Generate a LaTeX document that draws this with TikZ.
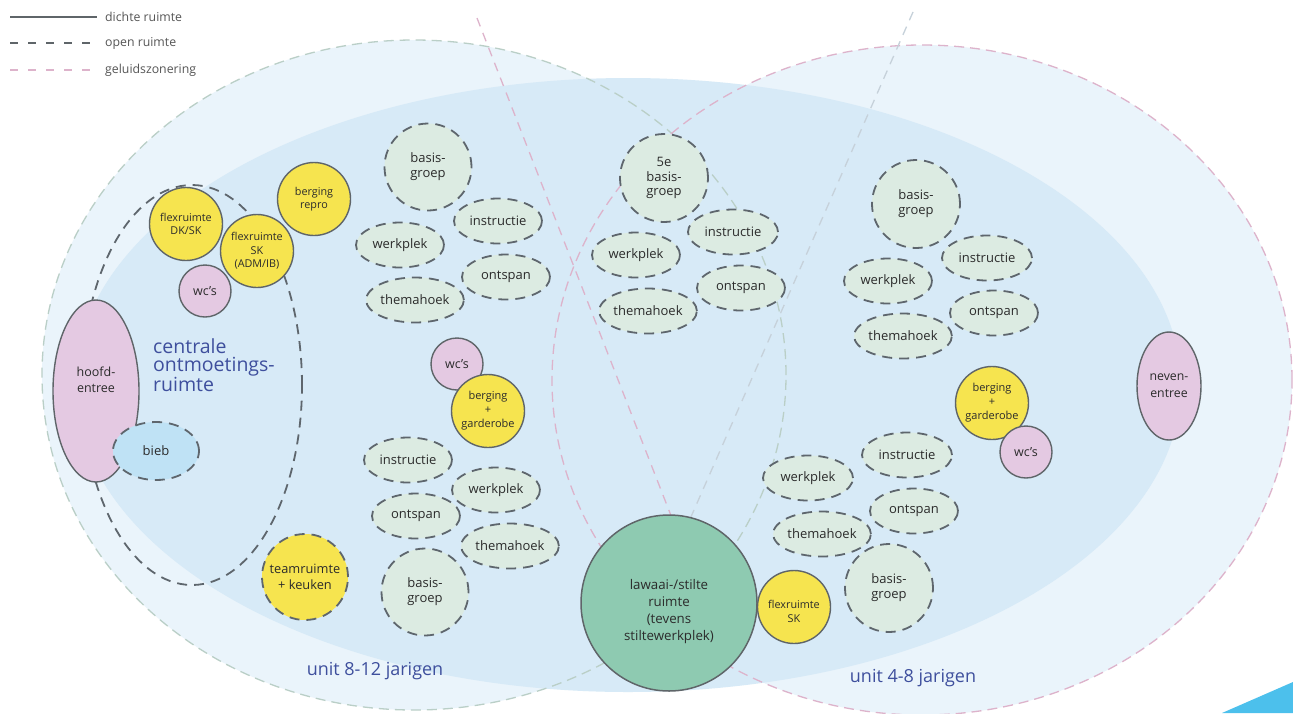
\documentclass[tikz,border=0pt]{standalone}
\usepackage{fontspec}
\setmainfont{Open Sans}
\usetikzlibrary{shapes.geometric}
\definecolor{outerfill}{HTML}{EAF4FB}
\definecolor{innerfill}{HTML}{D7EAF7}
\definecolor{yel}{HTML}{F6E44F}
\definecolor{pinkfill}{HTML}{E4C9E2}
\definecolor{greenfill}{HTML}{DCEBE2}
\definecolor{lawaaifill}{HTML}{8ECAB1}
\definecolor{biebfill}{HTML}{BFE2F5}
\definecolor{edge}{HTML}{5F6569}
\definecolor{dashedge}{HTML}{5E666D}
\definecolor{txt}{HTML}{2B2B2B}
\definecolor{bluetxt}{HTML}{3E4F9D}
\definecolor{zonepink}{HTML}{DDB3CB}
\definecolor{zonegreen}{HTML}{BACFC7}
\definecolor{zonegrey}{HTML}{C6D1DA}
\definecolor{cornerblue}{HTML}{4CC0EC}
\definecolor{legendtxt}{HTML}{555555}
\tikzset{
  room/.style={inner sep=0pt, align=center, text=txt, font=\fontsize{13}{15}\selectfont},
  openroom/.style={room, draw=dashedge, line width=1.8pt, dash pattern=on 10pt off 7pt, fill=greenfill},
  openell/.style={openroom, ellipse, minimum width=88pt, minimum height=45pt},
  opencirc/.style={openroom, circle, minimum size=87pt},
  closed/.style={room, draw=edge, line width=1.4pt},
  yelcirc/.style={closed, circle, fill=yel, minimum size=73pt, font=\fontsize{10.8}{13.5}\selectfont},
  wcroom/.style={closed, circle, fill=pinkfill, minimum size=52pt, font=\fontsize{12.5}{14}\selectfont},
  geluid/.style={draw=zonepink, line width=1.3pt, dash pattern=on 9pt off 7pt},
  geluidgrey/.style={draw=zonegrey, line width=1.3pt, dash pattern=on 9pt off 7pt},
  unitlabel/.style={text=bluetxt, font=\fontsize{18}{20}\selectfont, inner sep=0pt},
  legendlabel/.style={text=legendtxt, font=\fontsize{12.3}{14}\selectfont, inner sep=0pt, anchor=west},
}
\begin{document}
\begin{tikzpicture}[x=1pt,y=-1pt]
\useasboundingbox (0,0) rectangle (1293,713);
\clip (0,0) rectangle (1293,713);
\fill[white] (0,0) rectangle (1293,713);
% outer unit areas
\fill[outerfill] (414,375) ellipse [x radius=372pt, y radius=335pt];
\fill[outerfill] (922,380) ellipse [x radius=370pt, y radius=335pt];
% inner area
\fill[innerfill] (628,385) ellipse [x radius=553pt, y radius=307pt];
% unit borders
\draw[draw=zonegreen, line width=1.3pt, dash pattern=on 10pt off 6pt] (414,375) ellipse [x radius=372pt, y radius=335pt];
\draw[draw=zonepink, line width=1.3pt, dash pattern=on 10pt off 6pt] (922,380) ellipse [x radius=370pt, y radius=335pt];
% zone lines
\coordinate (zA1) at (477,18);
\coordinate (zA2) at (700,590);
\coordinate (zB1) at (913,12);
\coordinate (zB2) at (672,560);
\draw[geluid] (zA1) -- (zA2);
\draw[geluidgrey] (zB1) -- (zB2);
% centrale ontmoetingsruimte
\draw[draw=dashedge, line width=1.8pt, dash pattern=on 10pt off 7pt] (192,385) ellipse [x radius=110pt, y radius=200pt];
\node[text=bluetxt, font=\fontsize{19.5}{18}\selectfont, align=left, inner sep=0pt, anchor=north west] (centrale) at (153,338) {centrale\\ontmoetings-\\ruimte};
% left rooms
\node[closed, ellipse, fill=pinkfill, minimum width=86pt, minimum height=182pt] (hoofd) at (96,391) {};
\node[room, font=\fontsize{12.5}{16.5}\selectfont] (hoofdtext) at (96,380) {hoofd-\\entree};
\node[openroom, ellipse, fill=biebfill, minimum width=86pt, minimum height=58pt] (bieb) at (156,451) {bieb};
\node[yelcirc] (flexdk) at (186,224) {flexruimte\\DK/SK};
\node[yelcirc] (flexsk) at (257,251) {flexruimte\\SK\\(ADM/IB)};
\node[yelcirc] (repro) at (314,199) {berging\\repro};
\node[wcroom] (wc1) at (205,291) {wc’s};
\node[openroom, circle, fill=yel, minimum size=86pt, font=\fontsize{12.8}{16.5}\selectfont] (team) at (305,577) {teamruimte\\+ keuken};
% unit 8-12 upper cluster
\node[opencirc] (bg1) at (428,167) {basis-\\groep};
\node[openell] (in1) at (498,221) {instructie};
\node[openell] (wp1) at (400,245) {werkplek};
\node[openell] (on1) at (506,277) {ontspan};
\node[openell, minimum width=85pt] (th1) at (415,300) {themahoek};
% unit 8-12 lower cluster
\node[wcroom] (wc2) at (457,364) {wc’s};
\node[yelcirc, font=\fontsize{11}{14}\selectfont] (ber1) at (488,411) {berging\\+\\garderobe};
\node[openell] (in2) at (408,460) {instructie};
\node[openell] (wp2) at (496,490) {werkplek};
\node[openell] (on2) at (416,516) {ontspan};
\node[openell, minimum width=86pt] (th2) at (510,546) {themahoek};
\node[opencirc] (bg2) at (425,592) {basis-\\groep};
% middle cluster
\node[opencirc, minimum size=88pt, font=\fontsize{13}{14.5}\selectfont] (bg3) at (664,178) {5e\\basis-\\groep};
\node[openell, minimum width=90pt] (in3) at (733,232) {instructie};
\node[openell] (wp3) at (636,255) {werkplek};
\node[openell] (on3) at (741,288) {ontspan};
\node[openell, minimum width=86pt] (th3) at (648,311) {themahoek};
% unit 4-8 upper cluster
\node[opencirc, minimum size=88pt] (bg4) at (916,204) {basis-\\groep};
\node[openell, minimum width=90pt] (in4) at (987,258) {instructie};
\node[openell] (wp4) at (888,281) {werkplek};
\node[openell] (on4) at (994,313) {ontspan};
\node[openell, minimum width=84pt] (th4) at (903,336) {themahoek};
% unit 4-8 lower cluster
\node[yelcirc, font=\fontsize{11}{14}\selectfont] (ber2) at (992,403) {berging\\+\\garderobe};
\node[wcroom] (wc3) at (1026,452) {wc’s};
\node[openell, minimum width=90pt] (in5) at (907,455) {instructie};
\node[openell] (on5) at (914,511) {ontspan};
\node[opencirc, minimum size=88pt] (bg5) at (889,588) {basis-\\groep};
\node[openell, minimum width=90pt] (wp5) at (808,478) {werkplek};
\node[openell, minimum width=86pt] (th5) at (822,534) {themahoek};
\node[yelcirc] (flex2) at (794,607) {};
\node[room, font=\fontsize{10.8}{14}\selectfont] (flex2text) at (794,611) {flexruimte\\SK};
% central quiet room
\node[closed, circle, fill=lawaaifill, minimum size=176pt, line width=1.5pt] (lawaai) at (669,603) {};
\node[room, font=\fontsize{13.3}{17}\selectfont] (lawaaitext) at (669,612) {lawaai-/stilte\\ruimte\\(tevens\\stiltewerkplek)};
% side entrance
\node[closed, ellipse, fill=pinkfill, minimum width=64pt, minimum height=108pt, font=\fontsize{12.3}{17}\selectfont] (neven) at (1169,386) {neven-\\entree};
% unit labels
\node[unitlabel] (u812) at (375,671) {unit 8-12 jarigen};
\node[unitlabel] (u48) at (913,678) {unit 4-8 jarigen};
% corner
\fill[cornerblue] (1222,713) -- (1293,682) -- (1293,713) -- cycle;
% legend
\coordinate (l1a) at (10,17); \coordinate (l1b) at (97,17);
\coordinate (l2a) at (10,43); \coordinate (l2b) at (97,43);
\coordinate (l3a) at (10,70); \coordinate (l3b) at (97,70);
\draw[draw=edge, line width=1.4pt] (l1a) -- (l1b);
\draw[draw=edge, line width=1.2pt, dash pattern=on 8pt off 10pt] (l2a) -- (l2b);
\draw[draw=zonepink, line width=1.2pt, dash pattern=on 8pt off 10pt] (l3a) -- (l3b);
\node[legendlabel] (leg1) at (105,17) {dichte ruimte};
\node[legendlabel] (leg2) at (105,43) {open ruimte};
\node[legendlabel] (leg3) at (105,70) {geluidszonering};
\end{tikzpicture}
\end{document}
